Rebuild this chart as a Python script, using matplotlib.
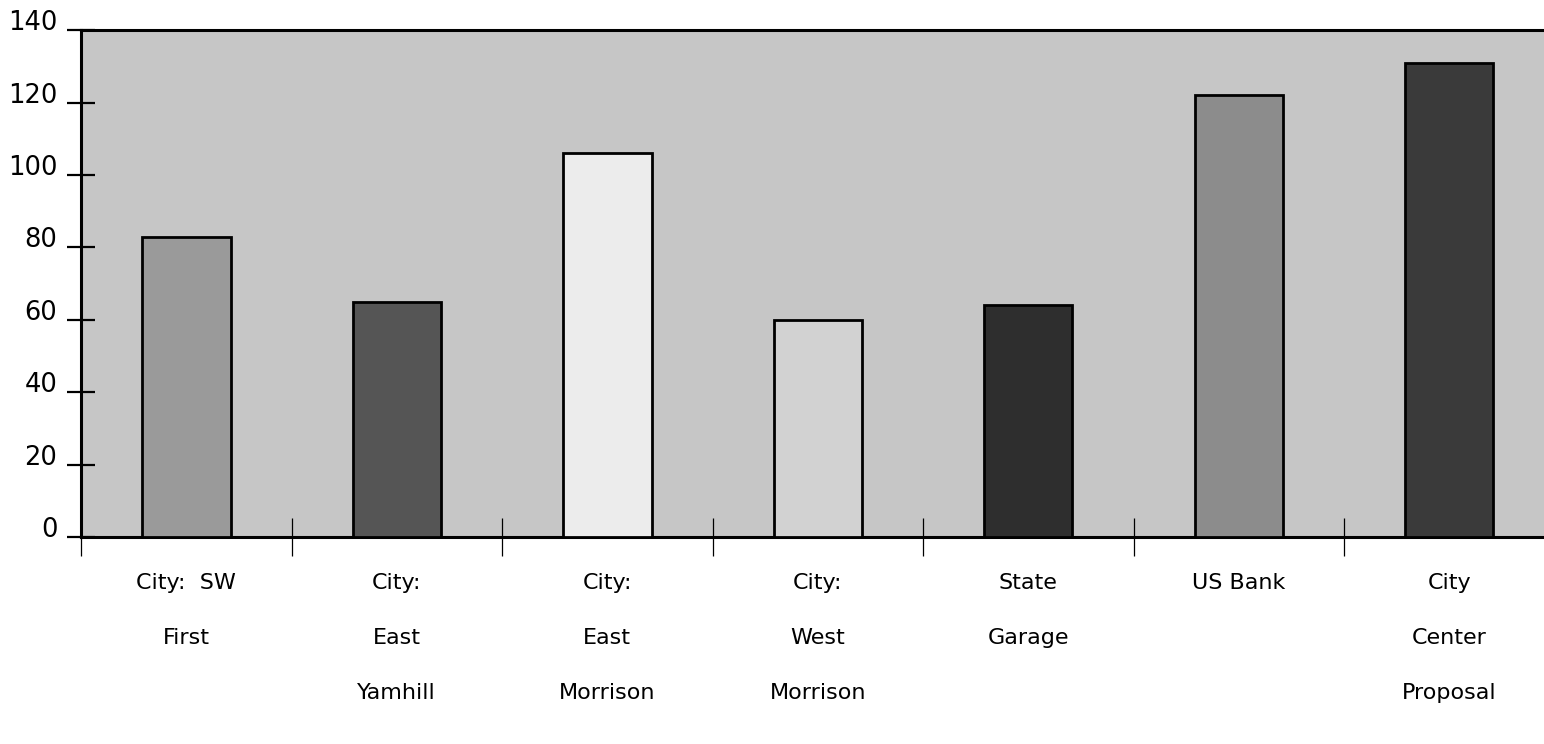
import matplotlib.pyplot as plt

# parking sites and their counts
sites = [
    "City:  SW\nFirst",
    "City:\nEast\nYamhill",
    "City:\nEast\nMorrison",
    "City:\nWest\nMorrison",
    "State\nGarage",
    "US Bank",
    "City\nCenter\nProposal",
]
values = [83, 65, 106, 60, 64, 122, 131]
bar_colors = ["#9a9a9a", "#555555", "#ececec", "#d2d2d2", "#2e2e2e", "#8c8c8c", "#3a3a3a"]

plt.rcParams["font.family"] = ["DejaVu Sans"]

fig = plt.figure(figsize=(15.44, 7.44), dpi=100)
ax = fig.add_axes([0.0525, 0.278, 0.9475, 0.6815])
ax.set_facecolor("#c6c6c6")

x = range(len(sites))
ax.bar(x, values, width=0.42, color=bar_colors, edgecolor="black", linewidth=2, zorder=3)

ax.set_ylim(0, 140)
ax.set_xlim(-0.5, 6.45)
ax.set_yticks(range(0, 141, 20))
ax.set_yticklabels([str(v) for v in range(0, 141, 20)], fontsize=18.5, va="baseline")
ax.tick_params(axis="y", direction="inout", length=20, width=1.6, pad=7)

# category boundaries as ticks, labels centred under each bar
ax.set_xticks([i - 0.5 for i in range(len(sites))])
ax.set_xticklabels([])
ax.tick_params(axis="x", direction="inout", length=28, width=0.9)
for i, name in enumerate(sites):
    ax.text(i, -9.8, name, ha="center", va="top", fontsize=16,
            linespacing=3.2, transform=ax.transData)

for side in ["top", "left", "bottom"]:
    ax.spines[side].set_linewidth(2.2)
ax.spines["right"].set_visible(False)

fig.savefig("out.png", dpi=100)
